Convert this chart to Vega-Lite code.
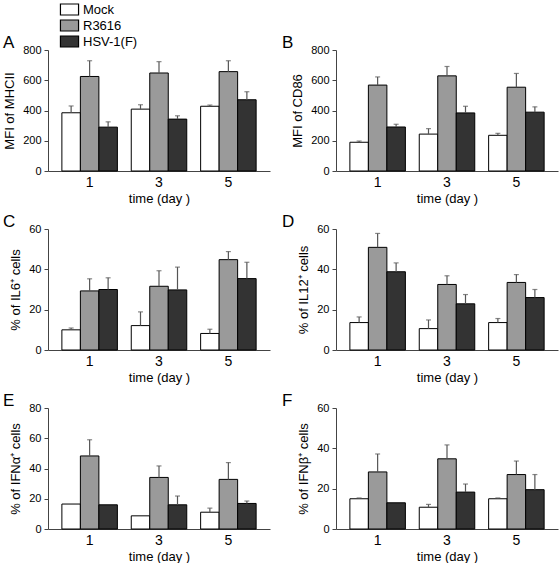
{
  "$schema": "https://vega.github.io/schema/vega-lite/v6.json",
  "padding": {"left": 3, "top": 2, "right": 3, "bottom": 0},
  "datasets": {
    "d": [
      {"panel": "A", "day": "1", "group": "Mock", "value": 385, "hi": 430},
      {"panel": "A", "day": "1", "group": "R3616", "value": 625, "hi": 729},
      {"panel": "A", "day": "1", "group": "HSV-1(F)", "value": 290, "hi": 325},
      {"panel": "A", "day": "3", "group": "Mock", "value": 409, "hi": 438},
      {"panel": "A", "day": "3", "group": "R3616", "value": 648, "hi": 723},
      {"panel": "A", "day": "3", "group": "HSV-1(F)", "value": 343, "hi": 365},
      {"panel": "A", "day": "5", "group": "Mock", "value": 428, "hi": 436},
      {"panel": "A", "day": "5", "group": "R3616", "value": 657, "hi": 729},
      {"panel": "A", "day": "5", "group": "HSV-1(F)", "value": 471, "hi": 524},
      {"panel": "B", "day": "1", "group": "Mock", "value": 190, "hi": 198},
      {"panel": "B", "day": "1", "group": "R3616", "value": 568, "hi": 622},
      {"panel": "B", "day": "1", "group": "HSV-1(F)", "value": 291, "hi": 309},
      {"panel": "B", "day": "3", "group": "Mock", "value": 244, "hi": 280},
      {"panel": "B", "day": "3", "group": "R3616", "value": 629, "hi": 691},
      {"panel": "B", "day": "3", "group": "HSV-1(F)", "value": 384, "hi": 428},
      {"panel": "B", "day": "5", "group": "Mock", "value": 236, "hi": 249},
      {"panel": "B", "day": "5", "group": "R3616", "value": 554, "hi": 645},
      {"panel": "B", "day": "5", "group": "HSV-1(F)", "value": 389, "hi": 424},
      {"panel": "C", "day": "1", "group": "Mock", "value": 10.0, "hi": 10.9},
      {"panel": "C", "day": "1", "group": "R3616", "value": 29.3, "hi": 35.3},
      {"panel": "C", "day": "1", "group": "HSV-1(F)", "value": 30.0, "hi": 35.8},
      {"panel": "C", "day": "3", "group": "Mock", "value": 12.1, "hi": 18.9},
      {"panel": "C", "day": "3", "group": "R3616", "value": 31.6, "hi": 39.3},
      {"panel": "C", "day": "3", "group": "HSV-1(F)", "value": 29.8, "hi": 41.1},
      {"panel": "C", "day": "5", "group": "Mock", "value": 8.2, "hi": 10.3},
      {"panel": "C", "day": "5", "group": "R3616", "value": 44.8, "hi": 48.8},
      {"panel": "C", "day": "5", "group": "HSV-1(F)", "value": 35.4, "hi": 43.5},
      {"panel": "D", "day": "1", "group": "Mock", "value": 13.6, "hi": 16.4},
      {"panel": "D", "day": "1", "group": "R3616", "value": 50.9, "hi": 57.8},
      {"panel": "D", "day": "1", "group": "HSV-1(F)", "value": 38.8, "hi": 43.2},
      {"panel": "D", "day": "3", "group": "Mock", "value": 10.6, "hi": 14.9},
      {"panel": "D", "day": "3", "group": "R3616", "value": 32.5, "hi": 36.8},
      {"panel": "D", "day": "3", "group": "HSV-1(F)", "value": 22.9, "hi": 27.5},
      {"panel": "D", "day": "5", "group": "Mock", "value": 13.6, "hi": 15.6},
      {"panel": "D", "day": "5", "group": "R3616", "value": 33.5, "hi": 37.4},
      {"panel": "D", "day": "5", "group": "HSV-1(F)", "value": 26.0, "hi": 30.0},
      {"panel": "E", "day": "1", "group": "Mock", "value": 16.5, "hi": null},
      {"panel": "E", "day": "1", "group": "R3616", "value": 48.3, "hi": 59.0},
      {"panel": "E", "day": "1", "group": "HSV-1(F)", "value": 16.0, "hi": null},
      {"panel": "E", "day": "3", "group": "Mock", "value": 8.7, "hi": null},
      {"panel": "E", "day": "3", "group": "R3616", "value": 34.1, "hi": 41.7},
      {"panel": "E", "day": "3", "group": "HSV-1(F)", "value": 16.0, "hi": 21.8},
      {"panel": "E", "day": "5", "group": "Mock", "value": 11.1, "hi": 13.8},
      {"panel": "E", "day": "5", "group": "R3616", "value": 32.8, "hi": 43.9},
      {"panel": "E", "day": "5", "group": "HSV-1(F)", "value": 16.9, "hi": 18.5},
      {"panel": "F", "day": "1", "group": "Mock", "value": 15.0, "hi": 15.4},
      {"panel": "F", "day": "1", "group": "R3616", "value": 28.3, "hi": 37.2},
      {"panel": "F", "day": "1", "group": "HSV-1(F)", "value": 13.0, "hi": null},
      {"panel": "F", "day": "3", "group": "Mock", "value": 10.8, "hi": 12.2},
      {"panel": "F", "day": "3", "group": "R3616", "value": 34.8, "hi": 41.7},
      {"panel": "F", "day": "3", "group": "HSV-1(F)", "value": 18.3, "hi": 22.3},
      {"panel": "F", "day": "5", "group": "Mock", "value": 15.0, "hi": 15.4},
      {"panel": "F", "day": "5", "group": "R3616", "value": 27.0, "hi": 33.7},
      {"panel": "F", "day": "5", "group": "HSV-1(F)", "value": 19.5, "hi": 27.0}
    ]
  },
  "columns": 2,
  "spacing": {"column": 12, "row": 8},
  "concat": [
    {
      "title": {"text": "A", "dx": -45},
      "width": 222, "height": 121,
      "data": {"name": "d"},
      "transform": [{"filter": "datum.panel === 'A'"}],
      "encoding": {
        "x": {"field": "day", "type": "nominal", "title": "time (day )", "axis": {"labelAngle": 0}},
        "xOffset": {"field": "group", "sort": ["Mock", "R3616", "HSV-1(F)"]}
      },
      "layer": [
        {"mark": {"type": "bar", "stroke": "#000", "strokeWidth": 1},
         "encoding": {
           "y": {"field": "value", "type": "quantitative", "title": "MFI of MHCII", "scale": {"domain": [0, 800]}, "axis": {"values": [0, 200, 400, 600, 800], "labelOverlap": false}},
           "fill": {"field": "group", "type": "nominal", "title": null, "sort": ["Mock", "R3616", "HSV-1(F)"]}
         }},
        {"transform": [{"filter": "datum.hi != null"}],
         "mark": {"type": "rule", "color": "#555", "strokeWidth": 1.2},
         "encoding": {
           "y": {"field": "value", "type": "quantitative", "title": "MFI of MHCII", "scale": {"domain": [0, 800]}, "axis": {"values": [0, 200, 400, 600, 800], "labelOverlap": false}},
           "y2": {"field": "hi"}
         }},
        {"transform": [{"filter": "datum.hi != null"}],
         "mark": {"type": "tick", "color": "#555", "thickness": 1.2, "size": 5},
         "encoding": {
           "y": {"field": "hi", "type": "quantitative", "title": "MFI of MHCII", "scale": {"domain": [0, 800]}, "axis": {"values": [0, 200, 400, 600, 800], "labelOverlap": false}}
         }}
      ]
    },
    {
      "title": {"text": "B", "dx": -54},
      "width": 222, "height": 121,
      "data": {"name": "d"},
      "transform": [{"filter": "datum.panel === 'B'"}],
      "encoding": {
        "x": {"field": "day", "type": "nominal", "title": "time (day )", "axis": {"labelAngle": 0}},
        "xOffset": {"field": "group", "sort": ["Mock", "R3616", "HSV-1(F)"]}
      },
      "layer": [
        {"mark": {"type": "bar", "stroke": "#000", "strokeWidth": 1},
         "encoding": {
           "y": {"field": "value", "type": "quantitative", "title": "MFI of CD86", "scale": {"domain": [0, 800]}, "axis": {"values": [0, 200, 400, 600, 800], "labelOverlap": false}},
           "fill": {"field": "group", "type": "nominal", "title": null, "sort": ["Mock", "R3616", "HSV-1(F)"]}
         }},
        {"transform": [{"filter": "datum.hi != null"}],
         "mark": {"type": "rule", "color": "#555", "strokeWidth": 1.2},
         "encoding": {
           "y": {"field": "value", "type": "quantitative", "title": "MFI of CD86", "scale": {"domain": [0, 800]}, "axis": {"values": [0, 200, 400, 600, 800], "labelOverlap": false}},
           "y2": {"field": "hi"}
         }},
        {"transform": [{"filter": "datum.hi != null"}],
         "mark": {"type": "tick", "color": "#555", "thickness": 1.2, "size": 5},
         "encoding": {
           "y": {"field": "hi", "type": "quantitative", "title": "MFI of CD86", "scale": {"domain": [0, 800]}, "axis": {"values": [0, 200, 400, 600, 800], "labelOverlap": false}}
         }}
      ]
    },
    {
      "title": {"text": "C", "dx": -45},
      "width": 222, "height": 121,
      "data": {"name": "d"},
      "transform": [{"filter": "datum.panel === 'C'"}],
      "encoding": {
        "x": {"field": "day", "type": "nominal", "title": "time (day )", "axis": {"labelAngle": 0}},
        "xOffset": {"field": "group", "sort": ["Mock", "R3616", "HSV-1(F)"]}
      },
      "layer": [
        {"mark": {"type": "bar", "stroke": "#000", "strokeWidth": 1},
         "encoding": {
           "y": {"field": "value", "type": "quantitative", "title": "% of IL6⁺ cells", "scale": {"domain": [0, 60]}, "axis": {"values": [0, 20, 40, 60], "labelOverlap": false}},
           "fill": {"field": "group", "type": "nominal", "title": null, "sort": ["Mock", "R3616", "HSV-1(F)"]}
         }},
        {"transform": [{"filter": "datum.hi != null"}],
         "mark": {"type": "rule", "color": "#555", "strokeWidth": 1.2},
         "encoding": {
           "y": {"field": "value", "type": "quantitative", "title": "% of IL6⁺ cells", "scale": {"domain": [0, 60]}, "axis": {"values": [0, 20, 40, 60], "labelOverlap": false}},
           "y2": {"field": "hi"}
         }},
        {"transform": [{"filter": "datum.hi != null"}],
         "mark": {"type": "tick", "color": "#555", "thickness": 1.2, "size": 5},
         "encoding": {
           "y": {"field": "hi", "type": "quantitative", "title": "% of IL6⁺ cells", "scale": {"domain": [0, 60]}, "axis": {"values": [0, 20, 40, 60], "labelOverlap": false}}
         }}
      ]
    },
    {
      "title": {"text": "D", "dx": -54},
      "width": 222, "height": 121,
      "data": {"name": "d"},
      "transform": [{"filter": "datum.panel === 'D'"}],
      "encoding": {
        "x": {"field": "day", "type": "nominal", "title": "time (day )", "axis": {"labelAngle": 0}},
        "xOffset": {"field": "group", "sort": ["Mock", "R3616", "HSV-1(F)"]}
      },
      "layer": [
        {"mark": {"type": "bar", "stroke": "#000", "strokeWidth": 1},
         "encoding": {
           "y": {"field": "value", "type": "quantitative", "title": "% of IL12⁺ cells", "scale": {"domain": [0, 60]}, "axis": {"values": [0, 20, 40, 60], "labelOverlap": false}},
           "fill": {"field": "group", "type": "nominal", "title": null, "sort": ["Mock", "R3616", "HSV-1(F)"]}
         }},
        {"transform": [{"filter": "datum.hi != null"}],
         "mark": {"type": "rule", "color": "#555", "strokeWidth": 1.2},
         "encoding": {
           "y": {"field": "value", "type": "quantitative", "title": "% of IL12⁺ cells", "scale": {"domain": [0, 60]}, "axis": {"values": [0, 20, 40, 60], "labelOverlap": false}},
           "y2": {"field": "hi"}
         }},
        {"transform": [{"filter": "datum.hi != null"}],
         "mark": {"type": "tick", "color": "#555", "thickness": 1.2, "size": 5},
         "encoding": {
           "y": {"field": "hi", "type": "quantitative", "title": "% of IL12⁺ cells", "scale": {"domain": [0, 60]}, "axis": {"values": [0, 20, 40, 60], "labelOverlap": false}}
         }}
      ]
    },
    {
      "title": {"text": "E", "dx": -45},
      "width": 222, "height": 121,
      "data": {"name": "d"},
      "transform": [{"filter": "datum.panel === 'E'"}],
      "encoding": {
        "x": {"field": "day", "type": "nominal", "title": "time (day )", "axis": {"labelAngle": 0}},
        "xOffset": {"field": "group", "sort": ["Mock", "R3616", "HSV-1(F)"]}
      },
      "layer": [
        {"mark": {"type": "bar", "stroke": "#000", "strokeWidth": 1},
         "encoding": {
           "y": {"field": "value", "type": "quantitative", "title": "% of IFNα⁺ cells", "scale": {"domain": [0, 80]}, "axis": {"values": [0, 20, 40, 60, 80], "labelOverlap": false}},
           "fill": {"field": "group", "type": "nominal", "title": null, "sort": ["Mock", "R3616", "HSV-1(F)"]}
         }},
        {"transform": [{"filter": "datum.hi != null"}],
         "mark": {"type": "rule", "color": "#555", "strokeWidth": 1.2},
         "encoding": {
           "y": {"field": "value", "type": "quantitative", "title": "% of IFNα⁺ cells", "scale": {"domain": [0, 80]}, "axis": {"values": [0, 20, 40, 60, 80], "labelOverlap": false}},
           "y2": {"field": "hi"}
         }},
        {"transform": [{"filter": "datum.hi != null"}],
         "mark": {"type": "tick", "color": "#555", "thickness": 1.2, "size": 5},
         "encoding": {
           "y": {"field": "hi", "type": "quantitative", "title": "% of IFNα⁺ cells", "scale": {"domain": [0, 80]}, "axis": {"values": [0, 20, 40, 60, 80], "labelOverlap": false}}
         }}
      ]
    },
    {
      "title": {"text": "F", "dx": -54},
      "width": 222, "height": 121,
      "data": {"name": "d"},
      "transform": [{"filter": "datum.panel === 'F'"}],
      "encoding": {
        "x": {"field": "day", "type": "nominal", "title": "time (day )", "axis": {"labelAngle": 0}},
        "xOffset": {"field": "group", "sort": ["Mock", "R3616", "HSV-1(F)"]}
      },
      "layer": [
        {"mark": {"type": "bar", "stroke": "#000", "strokeWidth": 1},
         "encoding": {
           "y": {"field": "value", "type": "quantitative", "title": "% of IFNβ⁺ cells", "scale": {"domain": [0, 60]}, "axis": {"values": [0, 20, 40, 60], "labelOverlap": false}},
           "fill": {"field": "group", "type": "nominal", "title": null, "sort": ["Mock", "R3616", "HSV-1(F)"]}
         }},
        {"transform": [{"filter": "datum.hi != null"}],
         "mark": {"type": "rule", "color": "#555", "strokeWidth": 1.2},
         "encoding": {
           "y": {"field": "value", "type": "quantitative", "title": "% of IFNβ⁺ cells", "scale": {"domain": [0, 60]}, "axis": {"values": [0, 20, 40, 60], "labelOverlap": false}},
           "y2": {"field": "hi"}
         }},
        {"transform": [{"filter": "datum.hi != null"}],
         "mark": {"type": "tick", "color": "#555", "thickness": 1.2, "size": 5},
         "encoding": {
           "y": {"field": "hi", "type": "quantitative", "title": "% of IFNβ⁺ cells", "scale": {"domain": [0, 60]}, "axis": {"values": [0, 20, 40, 60], "labelOverlap": false}}
         }}
      ]
    }
  ],
  "config": {
    "font": "Liberation Sans",
    "view": {"stroke": null},
    "scale": {"bandPaddingInner": 0.33, "bandPaddingOuter": 0.17, "offsetBandPaddingInner": 0},
    "range": {"category": ["#ffffff", "#9a9a9a", "#333333"]},
    "title": {"anchor": "start", "frame": "group", "fontSize": 17, "fontWeight": "normal", "color": "#000", "offset": -8, "baseline": "top"},
    "axis": {"grid": false, "domainColor": "#444", "tickColor": "#444", "labelColor": "#000", "titleColor": "#000", "labelFont": "Liberation Sans", "titleFont": "Liberation Sans", "titleFontWeight": "normal", "labelFontSize": 11, "titleFontSize": 13},
    "axisX": {"ticks": false, "labelFontSize": 14, "labelPadding": 4, "titlePadding": 3, "titleFontSize": 13},
    "axisY": {"tickSize": 4, "labelPadding": 3, "titlePadding": 6},
    "legend": {"orient": "none", "legendX": 14, "legendY": -48, "symbolType": "M-1.35,-0.82H1.35V0.82H-1.35Z", "symbolSize": 180, "symbolStrokeColor": "#000", "symbolStrokeWidth": 1.2, "labelFontSize": 13, "labelFont": "Liberation Sans", "rowPadding": -2, "labelOffset": 6}
  }
}
